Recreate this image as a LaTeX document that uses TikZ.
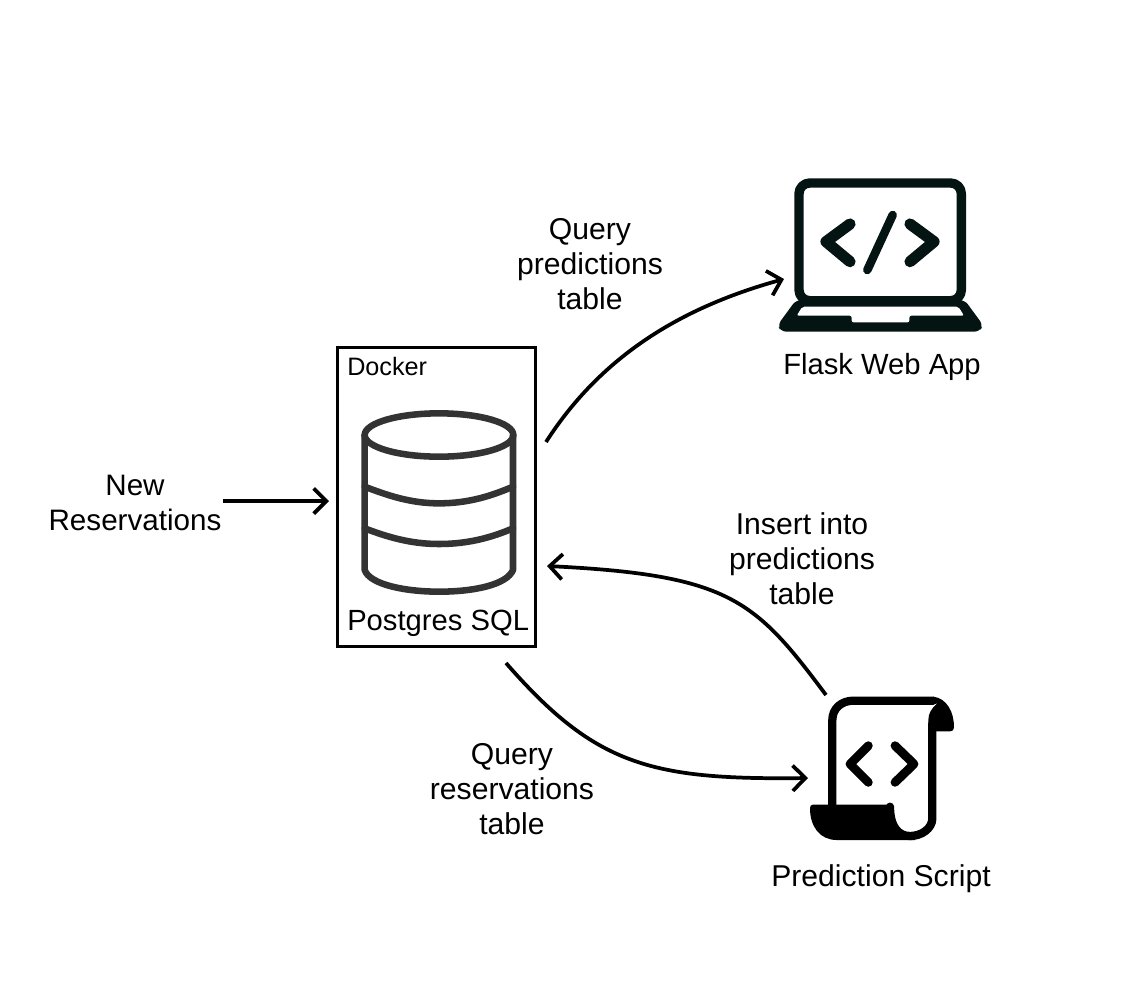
\documentclass[tikz,border=0pt]{standalone}
\usepackage{fontspec}
\setmainfont{Liberation Sans}
\usetikzlibrary{arrows.meta}
\definecolor{laptopc}{HTML}{041413}
\definecolor{dbc}{HTML}{333333}
\tikzset{
  x=0.75pt,y=-0.75pt,
  lbl/.style={font=\fontsize{22.6pt}{26.25pt}\selectfont,align=center,inner sep=0pt,text=black},
  lblb/.style={font=\fontsize{21.9pt}{26.25pt}\selectfont,align=center,inner sep=0pt,text=black},
  lblc/.style={font=\fontsize{22.2pt}{26.25pt}\selectfont,align=center,inner sep=0pt,text=black},
  small/.style={font=\fontsize{18.9pt}{22pt}\selectfont,inner sep=0pt,text=black},
  conn/.style={line width=2.8pt,-{Straight Barb[length=9.5pt,width=19pt,line width=2.8pt]},black},
  dbline/.style={draw=dbc,line width=4.9pt,line cap=round,line join=round},
  lapline/.style={draw=laptopc,line cap=round,line join=round},
  scr/.style={draw=black,line cap=round,line join=round}
}
\begin{document}
\begin{tikzpicture}
\useasboundingbox (0,0) rectangle (1138,990);
\fill[white] (0,0) rectangle (1138,990);
% Docker box
\node[draw=black,line width=2.3pt,minimum width=148pt,minimum height=224.5pt,inner sep=0pt] (dock) at (436.5,497) {};
\node[small,anchor=base west] (docklbl) at (347,375) {Docker};
\node[lblb,anchor=base west] (pg) at (347,630) {Postgres SQL};
% Database icon
\begin{scope}[shift={(330,340)},x=0.25pt,y=-0.25pt]
  \draw[dbline] (327,285) ellipse [x radius=223,y radius=65];
  \draw[dbline] (104,285) -- (104,690) .. controls (120,735) and (230,755) .. (327,755) .. controls (430,755) and (530,735) .. (549,690) -- (549,285);
  \draw[dbline] (104,440) .. controls (170,465) and (240,490) .. (327,490) .. controls (420,490) and (490,465) .. (549,440);
  \draw[dbline] (104,565) .. controls (170,590) and (240,612) .. (327,612) .. controls (420,612) and (490,590) .. (549,565);
\end{scope}
% Laptop icon
\begin{scope}[shift={(770,170)},x=0.25pt,y=-0.25pt]
  \draw[lapline,line width=7pt,rounded corners=8pt] (87,39) rectangle (574,392);
  \fill[laptopc,rounded corners=4pt] (78,390) -- (23,465) -- (33,485) -- (629,485) -- (639,465) -- (584,390) -- cycle;
  \fill[white,rounded corners=1.5pt] (97,410) -- (80,437) -- (245,437) -- (245,457) -- (418,457) -- (418,437) -- (582,437) -- (565,410) -- cycle;
  \draw[lapline,line width=8.4pt] (240,162) -- (168,215) -- (240,275);
  \draw[lapline,line width=8.4pt] (420,162) -- (492,215) -- (420,275);
  \draw[lapline,line width=6.4pt] (368,135) -- (292,300);
\end{scope}
\node[lblb,anchor=base] (flask) at (882,374) {Flask Web App};
% Script icon
\begin{scope}[shift={(800,690)},x=0.25pt,y=-0.25pt]
  \draw[scr,line width=6.2pt] (97,350) -- (97,90) .. controls (97,55) and (125,32) .. (160,32) -- (400,32);
  \draw[scr,line width=6.2pt] (397,100) -- (397,385) .. controls (397,415) and (365,438) .. (330,438) .. controls (295,438) and (270,410) .. (270,350);
  \fill[black] (400,20) .. controls (440,25) and (462,65) .. (462,112) .. controls (462,120) and (458,124) .. (450,124) -- (385,124) -- (385,90) .. controls (385,70) and (395,55) .. (410,42) -- cycle;
  \fill[black] (38,344) -- (265,344) .. controls (272,344) and (274,350) .. (275,370) .. controls (278,400) and (300,430) .. (330,438) -- (345,450) -- (110,450) .. controls (60,450) and (30,410) .. (30,355) .. controls (30,348) and (33,344) .. (38,344) -- cycle;
  \draw[scr,line width=6.6pt] (205,167) -- (150,222) -- (205,277);
  \draw[scr,line width=6.6pt] (285,167) -- (342,222) -- (285,277);
\end{scope}
\node[lbl,anchor=base] (pred) at (881,886) {Prediction Script};
% Labels
\node[lblc] (newres) at (135,502.5) {New\\Reservations};
\node[lbl] (qpred) at (590,264) {Query\\predictions\\table};
\node[lbl] (ins) at (802,559) {Insert into\\predictions\\table};
\node[lbl] (qres) at (512,789) {Query\\reservations\\table};
% Connector ends
\coordinate (a0) at (223,501); \coordinate (a1) at (329,501);
\coordinate (b0) at (546,442); \coordinate (b1) at (784,279);
\coordinate (c0) at (826,695); \coordinate (c1) at (547,566);
\coordinate (d0) at (506,663); \coordinate (d1) at (808,778);
\draw[conn] (a0) -- (a1);
\draw[conn] (b0) .. controls (605,350) and (690,305) .. (b1);
\draw[conn] (c0) .. controls (755,600) and (730,575) .. (c1);
\draw[conn] (d0) .. controls (595,765) and (650,780) .. (d1);
\end{tikzpicture}
\end{document}
